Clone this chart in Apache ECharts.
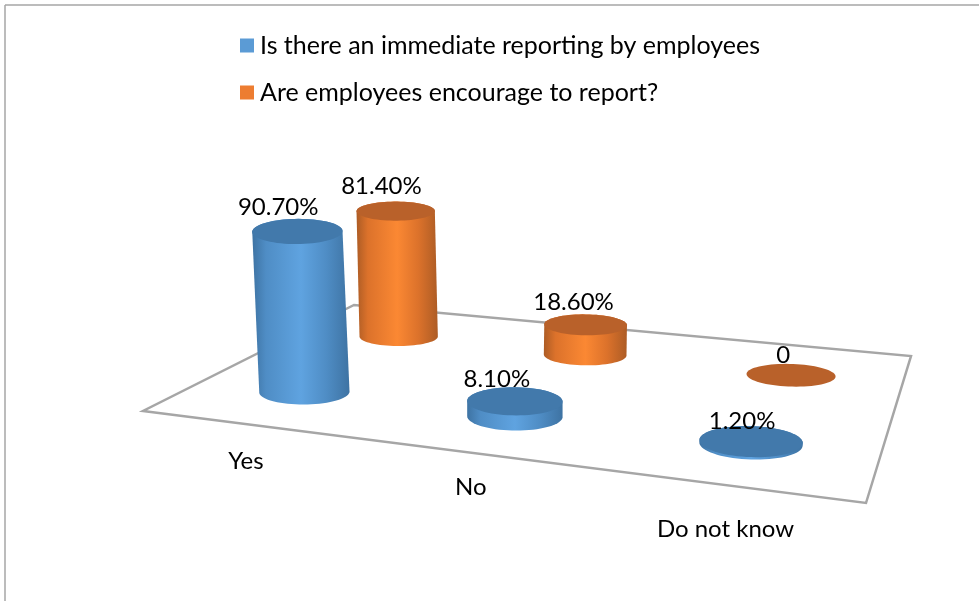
<!DOCTYPE html>
<html><head><meta charset="utf-8">
<style>html,body{margin:0;padding:0;background:#fff}#c{width:979px;height:601px}</style>
<script src="https://cdn.jsdelivr.net/npm/echarts@6/dist/echarts.min.js"></script>
</head><body><div id="c"></div>
<script>
const categories = ['Yes', 'No', 'Do not know'];
const seriesNames = ['Is there an immediate reporting by employees', 'Are employees encourage to report?'];
const immediateReporting = [90.7, 8.1, 1.2];
const encouragedToReport = [81.4, 18.6, 0];
const immediateLabels = ['90.70%', '8.10%', '1.20%'];
const encouragedLabels = ['81.40%', '18.60%', '0'];

const FONT = 'Lato';
const INK = '#000';
const LINE = '#a6a6a6';

// Perspective of the chart's floor: floor (u across, v into depth) -> pixels.
const corners = {p00: [143, 411], p10: [866, 503], p11: [911, 356], p01: [354, 305]};
const H = (function () {
  const {p00, p10, p11, p01} = corners;
  const dx1 = p10[0] - p11[0], dx2 = p01[0] - p11[0], sx = p00[0] - p10[0] + p11[0] - p01[0];
  const dy1 = p10[1] - p11[1], dy2 = p01[1] - p11[1], sy = p00[1] - p10[1] + p11[1] - p01[1];
  const det = dx1 * dy2 - dx2 * dy1;
  const g = (sx * dy2 - dx2 * sy) / det, h = (dx1 * sy - sx * dy1) / det;
  return {
    a: p10[0] - p00[0] + g * p10[0], b: p01[0] - p00[0] + h * p01[0], c: p00[0],
    d: p10[1] - p00[1] + g * p10[1], e: p01[1] - p00[1] + h * p01[1], f: p00[1], g, h
  };
})();
function project(u, v) {
  const w = H.g * u + H.h * v + 1;
  return {x: (H.a * u + H.b * v + H.c) / w, y: (H.d * u + H.e * v + H.f) / w, w};
}
const RU = 0.0675, RV = 0.092, VANISH_X = 514, VANISH_DIST = 4800, STEPS = 72, TILT_REMOVED = 0.55;

function gradient(edge, shade, mid) {
  return {type: 'linear', x: 0, y: 0, x2: 1, y2: 0, colorStops: [
    {offset: 0, color: shade}, {offset: 0.14, color: edge}, {offset: 0.5, color: mid},
    {offset: 0.76, color: edge}, {offset: 1, color: shade}]};
}

function cylinderRenderer(depth, labels, labelNudge, colors) {
  return function (params, api) {
    const i = api.value(0), value = api.value(1);
    const cs = params.coordSys;
    const origin = api.coord([i, 0]);
    const unit = origin[1] - api.coord([i, 1])[1];           // pixels per percent, from the value axis
    const raw = (origin[0] - cs.x) / cs.width;
    const u = raw + 0.005 * (1 - raw);
    const c = project(u, depth);
    const lift = value * unit / c.w;

    const offsets = [];
    let sxy = 0, sxx = 0;
    for (let s = 0; s < STEPS; s++) {
      const t = s / STEPS * Math.PI * 2;
      const p = project(u + RU * Math.cos(t), depth + RV * Math.sin(t));
      const dx = p.x - c.x, dy = p.y - c.y;
      offsets.push([dx, dy]);
      sxy += dx * dy; sxx += dx * dx;
    }
    const slope = sxy / sxx * TILT_REMOVED;
    const base = [], top = [];
    const tx = c.x + (c.x - VANISH_X) * lift / VANISH_DIST, ty = c.y - lift;
    offsets.forEach(([dx, dy]) => {
      const y = dy - slope * dx;
      base.push([c.x + dx, c.y + y]);
      top.push([tx + dx, ty + y]);
    });
    const extreme = (pts, sign) => pts.reduce((best, q, idx) => sign * q[0] > sign * pts[best][0] ? idx : best, 0);
    const walk = (pts, from, to) => {
      const out = [];
      for (let k = from; ; k = (k + 1) % STEPS) { out.push(pts[k]); if (k === to) break; }
      return out;
    };
    const lb = extreme(base, -1), rb = extreme(base, 1), lt = extreme(top, -1), rt = extreme(top, 1);
    const frontBase = walk(base, lb, rb);
    const backTop = walk(top, rt, lt);
    const children = [];
    if (value > 0) {
      children.push({type: 'polygon', shape: {points: frontBase.concat(backTop)},
        style: {fill: gradient(colors.edge, colors.shade, colors.mid)}});
    }
    children.push({type: 'polygon', shape: {points: top}, style: {fill: colors.top}});
    children.push({type: 'text', z2: 50, style: {
      text: labels[i], x: tx - 22 + 16 * u + labelNudge[i], y: ty - 25.5 + 7 * u,
      align: 'center', verticalAlign: 'middle',
      fill: INK, font: '24px ' + FONT}});
    return {type: 'group', children};
  };
}

const categoryGap = [37, 35, 44];
function floorRenderer(params, api) {
  const cs = params.coordSys;
  const pts = [corners.p00, corners.p10, corners.p11, corners.p01];
  const children = [{type: 'polygon', shape: {points: pts},
    style: {fill: 'none', stroke: LINE, lineWidth: 2.5, lineJoin: 'miter'}}];
  categories.forEach((name, i) => {
    const u = (api.coord([i, 0])[0] - cs.x) / cs.width;
    const p = project(u, 0);
    children.push({type: 'text', style: {text: name, x: p.x, y: p.y + categoryGap[i],
      align: 'center', verticalAlign: 'middle', fill: INK, font: '24px ' + FONT}});
  });
  return {type: 'group', children};
}

const chart = echarts.init(document.getElementById('c'), null, {renderer: 'canvas'});
chart.setOption({
  animation: false,
  backgroundColor: '#fff',
  grid: {left: 100, right: 100, top: 200, height: 185},
  xAxis: {type: 'category', data: categories, show: false},
  yAxis: {type: 'value', min: 0, max: 100, show: false},
  legend: {
    orient: 'vertical', left: 235, top: 28, itemWidth: 14, itemHeight: 14, itemGap: 22,
    icon: 'rect', data: seriesNames, selectedMode: false,
    textStyle: {fontFamily: FONT, fontSize: 25, color: INK, padding: [0, 0, 0, 1]}
  },
  graphic: [
    {type: 'line', silent: true, shape: {x1: 5, y1: 5, x2: 979, y2: 5}, style: {stroke: LINE, lineWidth: 1.5}},
    {type: 'line', silent: true, shape: {x1: 5, y1: 5, x2: 5, y2: 601}, style: {stroke: LINE, lineWidth: 1.5}}
  ],
  series: [
    {type: 'custom', name: 'floor', silent: true, z: 1, data: [[0, 0]], renderItem: floorRenderer, clip: false},
    {type: 'custom', name: seriesNames[1], z: 2, silent: true, clip: false,
      itemStyle: {color: '#ed7d31'},
      data: encouragedToReport.map((v, i) => [i, v]),
      renderItem: cylinderRenderer(0.74, encouragedLabels, [5, 2, 1], {shade: '#ad5c25', edge: '#dc722b', mid: '#fb8833', top: '#b9612a'})},
    {type: 'custom', name: seriesNames[0], z: 3, silent: true, clip: false,
      itemStyle: {color: '#5b9bd5'},
      data: immediateReporting.map((v, i) => [i, v]),
      renderItem: cylinderRenderer(0.24, immediateLabels, [0, -4, 0], {shade: '#3e73a3', edge: '#4f8dc5', mid: '#5fa3e0', top: '#4279ab'})}
  ]
});
</script></body></html>
